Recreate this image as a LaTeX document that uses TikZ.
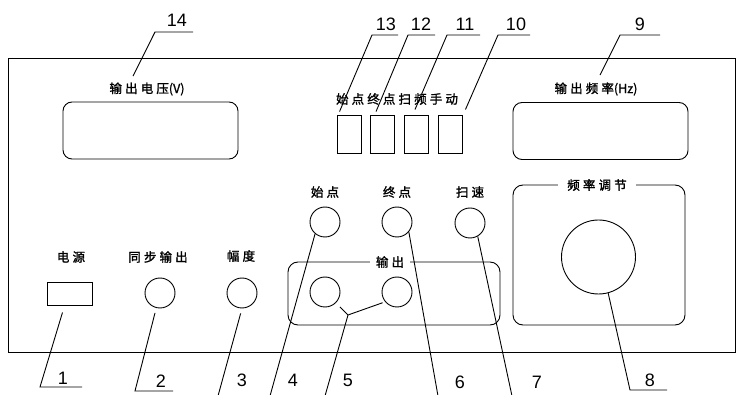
\documentclass[tikz,border=0pt]{standalone}
\usepackage{fontspec}
\setmainfont{Liberation Sans}
\newfontfamily\cjk[LetterSpace=25, FakeBold=1.5]{Noto Sans CJK SC}
\newfontfamily\cjkplain[FakeBold=1]{Noto Sans CJK SC}
\usepackage{tikz}
\usetikzlibrary{
    positioning,
    calc
}

\begin{document}
\begin{tikzpicture}[x=1pt, y=-1pt, line width=0.9pt,
    display/.style={draw, rounded corners=9pt, minimum width=175pt, minimum height=57pt},
    keybox/.style={draw, minimum width=24pt, minimum height=38pt, inner sep=0pt},
    knob/.style={draw, circle, minimum size=30pt, inner sep=0pt},
    caption/.style={font=\cjk\fontsize{12.5}{14}\selectfont, inner sep=1pt},
    titled/.style={caption, fill=white, inner ysep=2pt},
    num/.style={font=\fontsize{18}{20}\selectfont, inner sep=0pt}]
        \useasboundingbox (0,0) rectangle (737,395);

        % Front panel
        \draw (8,58) rectangle (735.5,352);

        % Displays
        \node[display] (vdisp) at (150.5,130.5) {};
        \node[caption] (vlbl) at (147,89) {输出电压{\cjkplain(V)}};
        \node[display] (fdisp) at (600.5,131) {};
        \node[caption] (flbl) at (596,89) {输出频率{\cjkplain(Hz)}};

        % Mode keys
        \node[caption] (klbl) at (397,99) {始点终点扫频手动};
        \node[keybox] (k13) at (349,134) {};
        \node[keybox] (k12) at (382.5,134) {};
        \node[keybox] (k11) at (416,134) {};
        \node[keybox] (k10) at (450,134) {};

        % Knobs
        \node[caption] (startlbl) at (325,192) {始点};
        \node[caption] (endlbl) at (397,192) {终点};
        \node[caption] (sweeplbl) at (470,192) {扫速};
        \node[knob] (kstart) at (325,222) {};
        \node[knob] (kend) at (397,222) {};
        \node[knob] (ksweep) at (470,223) {};

        \node[caption] (pwrlbl) at (71,257) {电源};
        \node[caption] (synclbl) at (158,257) {同步输出};
        \node[caption] (amplbl) at (241,256) {幅度};
        \node[draw, minimum width=45pt, minimum height=23pt, inner sep=0pt] (pwr) at (69.5,293.5) {};
        \node[knob] (ksync) at (160,293) {};
        \node[knob] (kamp) at (242,293) {};

        % Output group
        \draw[rounded corners=10pt] (288,262) rectangle (500,325);
        \node[titled, inner xsep=6pt] (outlbl) at (390,262) {输出};
        \node[knob] (out1) at (325,292) {};
        \node[knob] (out2) at (397,292) {};

        % Frequency group
        \draw[rounded corners=10pt] (513,185) rectangle (685,325);
        \node[titled, inner xsep=9pt] (freqlbl) at (597,185) {频率调节};
        \node[knob, minimum size=74pt] (kfreq) at (598.5,257) {};

        % Top callouts
        \node[num] (n14) at (177,20) {14};
        \node[num] (n13) at (386,24) {13};
        \node[num] (n12) at (421,24) {12};
        \node[num] (n11) at (465,24) {11};
        \node[num] (n10) at (516,24) {10};
        \node[num] (n9) at (640,24) {9};
        \draw ([shift={(-14,-5)}]vlbl.north) -- (155,32) -- (193,32);
        \draw ([shift={(3,-3)}]k13.north west) -- (372,35) -- (398,35);
        \draw ([shift={(6,-3)}]k12.north west) -- (408,35) -- (435,35);
        \draw ([shift={(-1,-5)}]k11.north) -- (447,35) -- (480,35);
        \draw ([shift={(3,-5)}]k10.north east) -- (498,35) -- (530,35);
        \draw ([shift={(4,-6)}]flbl.north) -- (620,35) -- (660,35);

        % Bottom callouts
        \node[num] (n1) at (63,378) {1};
        \node[num] (n2) at (161,381) {2};
        \node[num] (n3) at (242,380) {3};
        \node[num] (n4) at (293,380) {4};
        \node[num] (n5) at (348,380) {5};
        \node[num] (n6) at (460,382) {6};
        \node[num] (n7) at (537,382) {7};
        \node[num] (n8) at (650,380) {8};
        \coordinate (j5) at (348,315);
        \draw ([shift={(-7,7)}]pwr.south) -- (40,387) -- (82,387);
        \draw ([shift={(-1,5)}]ksync.-105) -- (135,391) -- (173,391);
        \draw ([shift={(0,5)}]kamp.-95) -- (218,396);
        \draw (kstart.-130) -- (270,396);
        \draw ([shift={(4,4)}]out1.-45) -- (j5) -- ([shift={(-1,3)}]out2.-150);
        \draw (j5) -- (325,396);
        \draw (kend.-40) -- (438,396);
        \draw (ksweep.-60) -- (512,396);
        \draw (kfreq.-75) -- (630,390) -- (667,390);
    \end{tikzpicture}
\end{document}
